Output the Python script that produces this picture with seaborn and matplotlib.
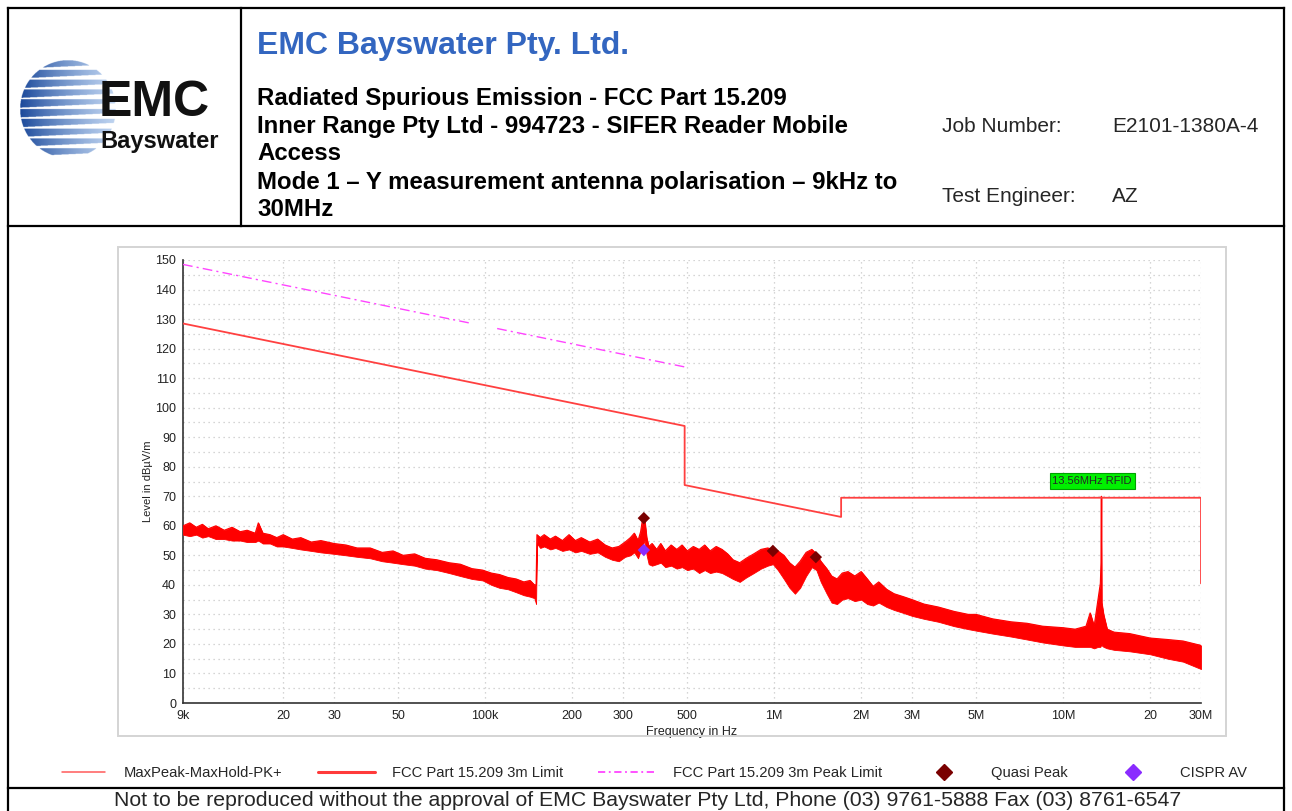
import numpy as np
import matplotlib
matplotlib.use("Agg")
import matplotlib.pyplot as plt
import seaborn as sns
from matplotlib.lines import Line2D
from matplotlib.patches import Rectangle
from matplotlib.ticker import FixedLocator, NullLocator

# ==========================================
# DATA (frequencies in kHz, levels in dBuV/m)
# ==========================================

# max-hold trace, read as upper / lower edge of the noise band
trace_khz = [9.0, 9.5, 10.0, 10.5, 11.0, 11.7, 12.5, 13.3, 14.2, 15.0, 16.0, 16.4, 17.0, 18.0,
             19.0, 20.0, 21.5, 23.0, 25.0, 27.0, 30.0, 33.0, 36.0, 40.0, 44.0, 48.0, 52.0, 57.0,
             62.0, 68.0, 75.0, 82.0, 90.0, 98.0, 105.0, 112.0, 120.0, 128.0, 136.0, 143.0, 148.0,
             150.0, 151.0, 155, 160, 168, 175, 185, 195, 205, 215, 230, 245, 260, 275, 290, 305,
             318, 328, 338, 345, 350, 356, 362, 368, 378, 392, 405, 420, 440, 460, 480, 500, 525,
             550, 575, 600, 630, 660, 690, 720, 760, 800, 850, 900, 950, 990, 1030, 1080, 1130,
             1180, 1230, 1290, 1350, 1400, 1450, 1520, 1580, 1650, 1720, 1800, 1900, 2000, 2100,
             2200, 2300, 2450, 2600, 2800, 3000, 3300, 3700, 4200, 4700, 5000, 5700, 6600, 7500,
             8500, 10000, 11000, 12000, 12400, 12800, 13200, 13450, 13520, 13560, 13600, 13800,
             14200, 15000, 17000, 20000, 23000, 26000, 30000]
trace_hi = [60, 61, 59.5, 60.5, 59, 60, 58.5, 59.5, 58, 58.5, 57.5, 61, 57.5, 57,
            56, 57, 55.5, 56, 54.5, 55, 54, 53.5, 52.5, 52.5, 51, 51.5, 50, 50.5,
            49, 48.5, 47.5, 47, 45.5, 45, 44, 43.5, 42.5, 42, 41, 41.5, 40,
            40, 57, 56, 57, 55.5, 56.5, 55, 57, 55, 56, 54.5, 55.5, 53.5, 52.5, 53, 54.5,
            56, 57.5, 55, 58, 62, 62.5, 56, 53, 54, 52, 54, 51.5, 53.5, 52, 53.5, 51.5, 53,
            52, 53.5, 51.5, 53, 52, 50.5, 48.5, 47.5, 49, 50.5, 52, 52.5, 52, 51.5, 50, 47.5,
            46, 48, 51, 52, 50.5, 48, 45.5, 43, 42, 44, 44.5, 43, 44.5, 42,
            39.5, 41, 38.5, 37, 36, 35, 33.5, 32.5, 31, 30, 30, 28.5, 27.5, 27,
            26, 25.5, 25, 26, 30.5, 26, 35, 40.5, 47.5, 70, 34, 30,
            25, 24, 23.5, 22, 21.5, 21, 19.5]
trace_lo = [57, 56.5, 57, 56, 56.5, 55.5, 55.5, 55, 55, 54.5, 54.5, 55, 54, 54,
            53, 53, 52.5, 52, 51.5, 51, 50.5, 50, 49.5, 49, 48, 47.5, 47, 46.5,
            45.5, 45, 44, 43, 42, 41.5, 40, 39, 38.5, 37.5, 36.5, 36, 35.5,
            33.5, 54, 52.5, 53, 52, 52.5, 51.5, 52, 51, 51.5, 50.5, 51, 49.5, 48.5, 48, 49.5,
            50, 51, 49, 51.5, 53, 55, 50, 47, 46.5, 47, 47.5, 46, 46.5, 45.5, 46, 45, 45.5,
            44, 45, 44, 44.5, 44, 43, 42, 41, 42.5, 44, 45.5, 46.5, 47, 45, 42, 39,
            37, 39, 43, 46, 45, 41, 37, 34, 33.5, 35, 35.5, 34.5, 35, 33.5,
            33, 34, 32.5, 31.5, 30.5, 29.5, 28.5, 27.5, 26, 25, 24.5, 23.5, 22.5, 21.5,
            20.5, 19.5, 19, 19, 19, 18.5, 19, 19, 19.5, 20, 19.5, 19,
            18.5, 18, 17.5, 16.5, 15, 14, 11.5]

# FCC Part 15.209 3m limit
limit_khz = [9, 490, 490, 1705, 1705, 30000, 30000]
limit_db = [128.5, 93.8, 73.8, 63.0, 69.5, 69.5, 40.5]

# FCC Part 15.209 3m peak limit (gap 90-110 kHz)
peak_a_khz = [9, 90]
peak_a_db = [148.5, 128.5]
peak_b_khz = [110, 490]
peak_b_db = [126.8, 113.8]

# final measurements
qp_khz = [354, 990, 1394]
qp_db = [62.6, 51.5, 49.4]
av_khz = [354]
av_db = [51.8]

xtick_khz = [9, 20, 30, 50, 100, 200, 300, 500, 1000, 2000, 3000, 5000, 10000, 20000, 30000]
xtick_labels = ["9k", "20", "30", "50", "100k", "200", "300", "500", "1M", "2M", "3M", "5M",
                "10M", "20", "30M"]

# ==========================================
# STYLE
# ==========================================

sns.set_theme(style="white")
plt.rcParams["font.family"] = ["Liberation Sans", "DejaVu Sans"]

W, H = 1292, 811
fig = plt.figure(figsize=(W / 100, H / 100), dpi=100)


def fx(px):
    return px / W


def fy(py):
    return 1 - py / H


def fline(x0, y0, x1, y1, **kw):
    fig.add_artist(Line2D([fx(x0), fx(x1)], [fy(y0), fy(y1)], transform=fig.transFigure, **kw))


# ==========================================
# PAGE FRAME
# ==========================================

frame = dict(color="black", lw=1.6, solid_capstyle="projecting")
fline(8, 8, 1284, 8, **frame)
fline(8, 8, 8, 811, **frame)
fline(1284, 8, 1284, 811, **frame)
fline(8, 226, 1284, 226, **frame)
fline(241, 8, 241, 226, **frame)
fline(8, 788, 1284, 788, **frame)

fig.add_artist(Rectangle((fx(118), fy(736)), fx(1226) - fx(118), fy(247) - fy(736),
                         transform=fig.transFigure, fill=False, edgecolor="#D4D4D4", lw=1.4))

# ==========================================
# LOGO
# ==========================================

logo_ax = fig.add_axes([fx(20), fy(158), fx(96), fy(60) - fy(158)])
n = 300
xs = np.linspace(-1, 1, n)
X, Y = np.meshgrid(xs, xs)
t = (X + 1) / 2
phase = ((Y + 1) / 0.2) % 1.0
mask = (X ** 2 + Y ** 2 <= 1) & (phase < 0.86 - 0.45 * t)
dark = np.array([0.10, 0.28, 0.60])
light = np.array([0.55, 0.70, 0.90])
img = np.zeros((n, n, 4))
img[..., :3] = dark * (1 - t[..., None]) + light * t[..., None]
img[..., 3] = mask * (1 - 0.45 * t)
logo_ax.imshow(img, extent=(-1, 1, -1, 1), aspect="auto")
logo_ax.axis("off")

fig.text(fx(99), fy(116), "EMC", fontsize=36, fontweight="bold", color="#111111",
         va="baseline", ha="left")
fig.text(fx(100), fy(148), "Bayswater", fontsize=17, fontweight="bold", color="#111111",
         va="baseline", ha="left")

# ==========================================
# HEADER TEXT
# ==========================================

fig.text(fx(257), fy(46), "EMC Bayswater Pty. Ltd.", fontsize=23, fontweight="bold",
         color="#3366C0", va="center")
header_lines = [
    "Radiated Spurious Emission - FCC Part 15.209",
    "Inner Range Pty Ltd - 994723 - SIFER Reader Mobile",
    "Access",
    "Mode 1 \u2013 Y measurement antenna polarisation \u2013 9kHz to",
    "30MHz",
]
for line, py in zip(header_lines, [98, 126, 153, 183, 210]):
    fig.text(fx(257), fy(py), line, fontsize=17.3, fontweight="bold", color="black", va="center")

fig.text(fx(942), fy(126), "Job Number:", fontsize=15, va="center")
fig.text(fx(1112), fy(126), "E2101-1380A-4", fontsize=15, va="center")
fig.text(fx(942), fy(196), "Test Engineer:", fontsize=15, va="center")
fig.text(fx(1112), fy(196), "AZ", fontsize=15, va="center")

fig.text(fx(648), fy(800),
         "Not to be reproduced without the approval of EMC Bayswater Pty Ltd, "
         "Phone (03) 9761-5888 Fax (03) 8761-6547",
         fontsize=15.3, ha="center", va="center")

# ==========================================
# CHART
# ==========================================

ax = fig.add_axes([fx(183), fy(703), fx(1201) - fx(183), fy(260) - fy(703)])
ax.set_xscale("log")
ax.set_xlim(9, 30000)
ax.set_ylim(0, 150)

# trace
ax.fill_between(trace_khz, trace_lo, trace_hi, color="#FF0000", lw=0.6, edgecolor="#FF0000",
                zorder=3)
sns.lineplot(x=trace_khz, y=trace_hi, ax=ax, color="#FF0000", lw=0.8, estimator=None,
             sort=False, zorder=3)

# limits
sns.lineplot(x=limit_khz, y=limit_db, ax=ax, color="#FF4040", lw=1.3, estimator=None,
             sort=False, zorder=4)
for fk, db in [(peak_a_khz, peak_a_db), (peak_b_khz, peak_b_db)]:
    sns.lineplot(x=fk, y=db, ax=ax, color="#FF44FF", lw=1.0, estimator=None, sort=False,
                 zorder=4, dashes=False, linestyle=(0, (7, 3, 1.5, 3)))

# final measurements
sns.scatterplot(x=qp_khz, y=qp_db, ax=ax, marker="D", s=40, color="#7A0000",
                edgecolor="none", zorder=5)
sns.scatterplot(x=av_khz, y=av_db, ax=ax, marker="D", s=40, color="#8A2BFF",
                edgecolor="none", zorder=5)

ax.text(12600, 75.2, "13.56MHz RFID", fontsize=8, ha="center", va="center", zorder=6,
        bbox=dict(boxstyle="square,pad=0.25", facecolor="#00F000", edgecolor="#00A000", lw=0.8))

# axes cosmetics
ax.xaxis.set_major_locator(FixedLocator(xtick_khz))
ax.xaxis.set_minor_locator(NullLocator())
ax.set_xticklabels(xtick_labels)
ax.yaxis.set_major_locator(FixedLocator(range(0, 151, 10)))
ax.yaxis.set_minor_locator(FixedLocator(range(5, 150, 10)))

ax.grid(which="major", axis="both", color="#C8C8C8", linestyle=(0, (1, 3)), lw=0.9)
ax.grid(which="minor", axis="y", color="#C8C8C8", linestyle=(0, (1, 3)), lw=0.9)

for side in ["top", "right"]:
    ax.spines[side].set_visible(False)
for side in ["left", "bottom"]:
    ax.spines[side].set_color("#333333")
    ax.spines[side].set_linewidth(1.2)

ax.tick_params(axis="both", which="major", direction="inout", length=6, width=1.0,
               color="#333333", labelsize=9, labelcolor="#222222", pad=2)
ax.tick_params(axis="y", which="minor", direction="inout", length=6, width=1.0,
               color="#333333")

ax.set_xlabel("Frequency in Hz", fontsize=9, color="#222222")
ax.xaxis.set_label_coords(0.5, -0.052)
ax.set_ylabel("Level in dB\u00b5V/m", fontsize=8, color="#222222")
ax.yaxis.set_label_coords(-0.029, 0.5)
ax.set_facecolor("none")

# ==========================================
# LEGEND (one entry per box, placed like the report)
# ==========================================

legend_fs = 10.6
fs_px = legend_fs * 100 / 72
legend_items = [
    (Line2D([], [], color="#FF5A5A", lw=1.1), "MaxPeak-MaxHold-PK+", 62, 43, 19),
    (Line2D([], [], color="#FF3A3A", lw=2.2), "FCC Part 15.209 3m Limit", 318, 57, 17),
    (Line2D([], [], color="#FF44FF", lw=1.3, linestyle=(0, (4, 2, 1, 2))),
     "FCC Part 15.209 3m Peak Limit", 598, 57, 18),
    (Line2D([], [], color="#7A0000", marker="D", markersize=8, linestyle="none"),
     "Quasi Peak", 922, 44, 25),
    (Line2D([], [], color="#8A2BFF", marker="D", markersize=8, linestyle="none"),
     "CISPR AV", 1111, 44, 25),
]
for handle, label, x0, hlen, pad in legend_items:
    fig.legend([handle], [label], loc="center left", bbox_to_anchor=(fx(x0), fy(773)),
               frameon=False, fontsize=legend_fs, handlelength=hlen / fs_px,
               handletextpad=pad / fs_px, borderpad=0, borderaxespad=0)

fig.savefig("out.png", dpi=100, facecolor="white")
